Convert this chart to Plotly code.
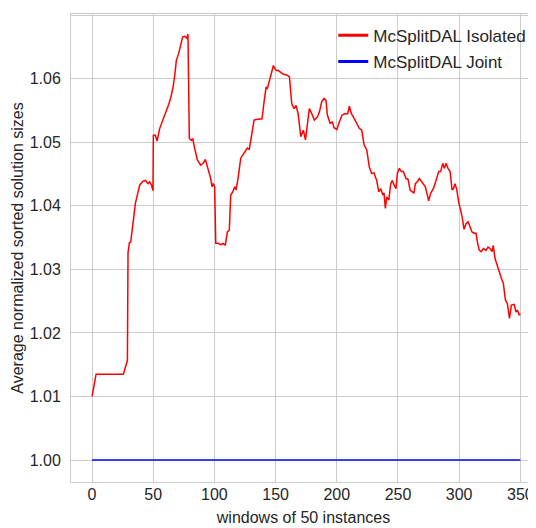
import plotly.graph_objects as go

# McSplitDAL Isolated: values (window index, avg normalized size)
iso_x = [0, 3.3, 25.6, 28.9, 29.4, 30.5, 31.6, 33.8, 35.4, 39, 41.7, 43.6, 45.8, 47.1, 48.5, 49.8,
         50.1, 51.7, 53.1, 55.3, 58, 60.7, 62.7, 64.3, 66.2, 67.6, 68.9, 70.8, 72.5, 74.1, 75.7, 77.4, 78.4,
         79.5, 81.2, 82.3, 83.9, 86.1, 88.8, 90.7, 92.6, 94.8, 97, 98.1, 99.1, 100.2,
         101.1, 103, 105.2, 107.1, 108.9, 110.6, 112.2, 113.3, 115, 116.6, 117.7, 119.3, 121.5, 123.1,
         124.8, 126.9, 128.5, 130.2, 132.4, 134.3, 137, 138.9, 140.6, 142.2, 143.3, 144.4, 146, 147.7,
         148.2, 149.3, 150.9, 152.3, 156.4, 159.1, 161.3, 163.2, 165.1, 166.7, 168.4, 170.6, 172.7,
         174.4, 176, 177.6, 179.6, 181.7, 184.2, 185.8, 187.7, 189.6, 191.2, 192.3, 194.5, 196.4, 197.8,
         200, 202.1, 204.3, 206.7, 208.9, 210.3, 211.9, 213.5, 215.7, 218.4, 220.4, 222.3, 224.5, 226.6,
         228.5, 230.4, 232.6, 234.3, 235.9, 237.5, 238.6, 239.7, 240.8, 242.5, 244.1, 245.4, 246.8,
         248.4, 249.5, 251.1, 252.8, 254.4, 256.6, 258.2, 259.9, 261.5, 263.1, 264.2, 265.8, 267.5,
         269.1, 270.7, 272.4, 273.4, 275.1, 276.7, 278.9, 281.1, 283.3, 284.9, 286.6, 287.9, 289.3,
         290.9, 292.6, 294.2, 295.3, 296.6, 298, 299.7, 301.3, 302.4, 304, 305.6, 307.3, 308.9, 310.5,
         312.2, 313.8, 314.9, 316.5, 318.1, 319.8, 322, 323.6, 325.2, 326.9, 327.9, 329.3, 330.7, 332.8,
         334.5, 336.1, 337.8, 339.4, 341.1, 342.7, 344.9, 346.5, 347.6, 349.2, 350]
iso_y = [1.0100, 1.0135, 1.0135, 1.0157, 1.0326, 1.0342, 1.0343, 1.0383, 1.0404, 1.0433, 1.0439, 1.0440,
         1.0435, 1.0438, 1.0433, 1.0424,
         1.0511, 1.0511, 1.0502, 1.0522, 1.0535, 1.0548, 1.0560, 1.0570, 1.0587, 1.0606, 1.0629, 1.0640,
         1.0653, 1.0666, 1.0667, 1.0664, 1.0670,
         1.0506, 1.0503, 1.0506, 1.0490, 1.0472, 1.0464, 1.0467, 1.0473, 1.0459, 1.0443, 1.0430, 1.0435,
         1.0430,
         1.0341, 1.0341, 1.0339, 1.0341, 1.0338, 1.0359, 1.0362, 1.0417, 1.0422, 1.0430, 1.0425, 1.0443,
         1.0475, 1.0480,
         1.0485, 1.0491, 1.0489, 1.0511, 1.0535, 1.0536, 1.0537, 1.0537, 1.0564, 1.0587, 1.0585, 1.0593,
         1.0606, 1.0621,
         1.0621, 1.0616, 1.0613, 1.0613, 1.0607, 1.0606, 1.0603, 1.0561, 1.0553, 1.0558, 1.0545, 1.0509,
         1.0519,
         1.0504, 1.0532, 1.0553, 1.0545, 1.0535, 1.0540, 1.0548, 1.0564, 1.0569, 1.0566, 1.0543, 1.0530,
         1.0532, 1.0523,
         1.0520, 1.0532, 1.0543, 1.0545, 1.0545, 1.0557, 1.0545, 1.0540, 1.0532, 1.0522, 1.0519, 1.0496,
         1.0488, 1.0461,
         1.0451, 1.0452, 1.0440, 1.0422, 1.0427, 1.0418, 1.0420, 1.0396, 1.0414, 1.0409, 1.0435, 1.0440,
         1.0433,
         1.0427, 1.0451, 1.0459, 1.0454, 1.0454, 1.0443, 1.0442, 1.0425, 1.0422, 1.0420, 1.0435, 1.0438,
         1.0443,
         1.0439, 1.0434, 1.0430, 1.0422, 1.0408, 1.0420, 1.0427, 1.0440, 1.0454, 1.0454, 1.0467, 1.0459,
         1.0467,
         1.0459, 1.0454, 1.0425, 1.0427, 1.0435, 1.0426, 1.0405, 1.0391, 1.0383, 1.0363, 1.0372, 1.0375,
         1.0367, 1.0359,
         1.0357, 1.0357, 1.0343, 1.0330, 1.0328, 1.0333, 1.0330, 1.0335, 1.0333, 1.0328, 1.0338, 1.0317,
         1.0309, 1.0294,
         1.0286, 1.0278, 1.0252, 1.0246, 1.0223, 1.0244, 1.0245, 1.0233, 1.0236, 1.0228, 1.0230]

# McSplitDAL Joint: constant at 1.00
joint_x = [0, 350]
joint_y = [1.0, 1.0]

x_ticks = [0, 50, 100, 150, 200, 250, 300, 350]
y_ticks = [1.00, 1.01, 1.02, 1.03, 1.04, 1.05, 1.06, 1.07]
y_tick_labels = ["1.00", "1.01", "1.02", "1.03", "1.04", "1.05", "1.06", "1.07"]

FONT = "Liberation Sans, Arial, sans-serif"
TXT = "#262626"
GRID = "#cccccc"

fig = go.Figure()
fig.add_trace(go.Scatter(x=iso_x, y=iso_y, mode="lines", line=dict(color="#ff0000", width=1.5),
                         showlegend=False, name="McSplitDAL Isolated"))
fig.add_trace(go.Scatter(x=joint_x, y=joint_y, mode="lines", line=dict(color="#0000ff", width=1.5),
                         showlegend=False, name="McSplitDAL Joint"))
# legend entries (thicker legend lines as in the reference)
fig.add_trace(go.Scatter(x=[None], y=[None], mode="lines", line=dict(color="#ff0000", width=3),
                         name="McSplitDAL Isolated", legendgroup="a"))
fig.add_trace(go.Scatter(x=[None], y=[None], mode="lines", line=dict(color="#0000ff", width=3),
                         name="McSplitDAL Joint", legendgroup="b"))

# the page adds an 8px body margin, so the figure is sized to fill the rest of the window
fig.update_layout(
    width=528, height=520,
    margin=dict(l=63, r=0, t=6, b=46),
    paper_bgcolor="white", plot_bgcolor="white",
    font=dict(family=FONT, size=16, color=TXT),
    showlegend=True,
    legend=dict(x=0.564, y=0.992, xanchor="left", yanchor="top", bgcolor="rgba(0,0,0,0)",
                font=dict(size=17, color=TXT), tracegroupgap=1),
)
fig.update_xaxes(range=[-17.2, 362.8], tickvals=x_ticks, ticktext=[str(v) for v in x_ticks],
                 showgrid=True, gridcolor=GRID, gridwidth=1, zeroline=False, automargin=False,
                 showline=True, linecolor=GRID, linewidth=1, mirror=True, ticks="",
                 ticklabelstandoff=-2,
                 title=dict(text="windows of 50 instances", font=dict(size=16, color=TXT), standoff=9),
                 tickfont=dict(size=16, color=TXT))
fig.update_yaxes(range=[0.99654, 1.0702], tickvals=y_ticks, ticktext=y_tick_labels,
                 showgrid=True, gridcolor=GRID, gridwidth=1, zeroline=False, automargin=False,
                 showline=True, linecolor=GRID, linewidth=1, mirror=True, ticks="",
                 ticklabelstandoff=6,
                 title=dict(text="Average normalized sorted solution sizes", font=dict(size=16, color=TXT),
                            standoff=2),
                 tickfont=dict(size=16, color=TXT))

fig.write_html("out.html")
